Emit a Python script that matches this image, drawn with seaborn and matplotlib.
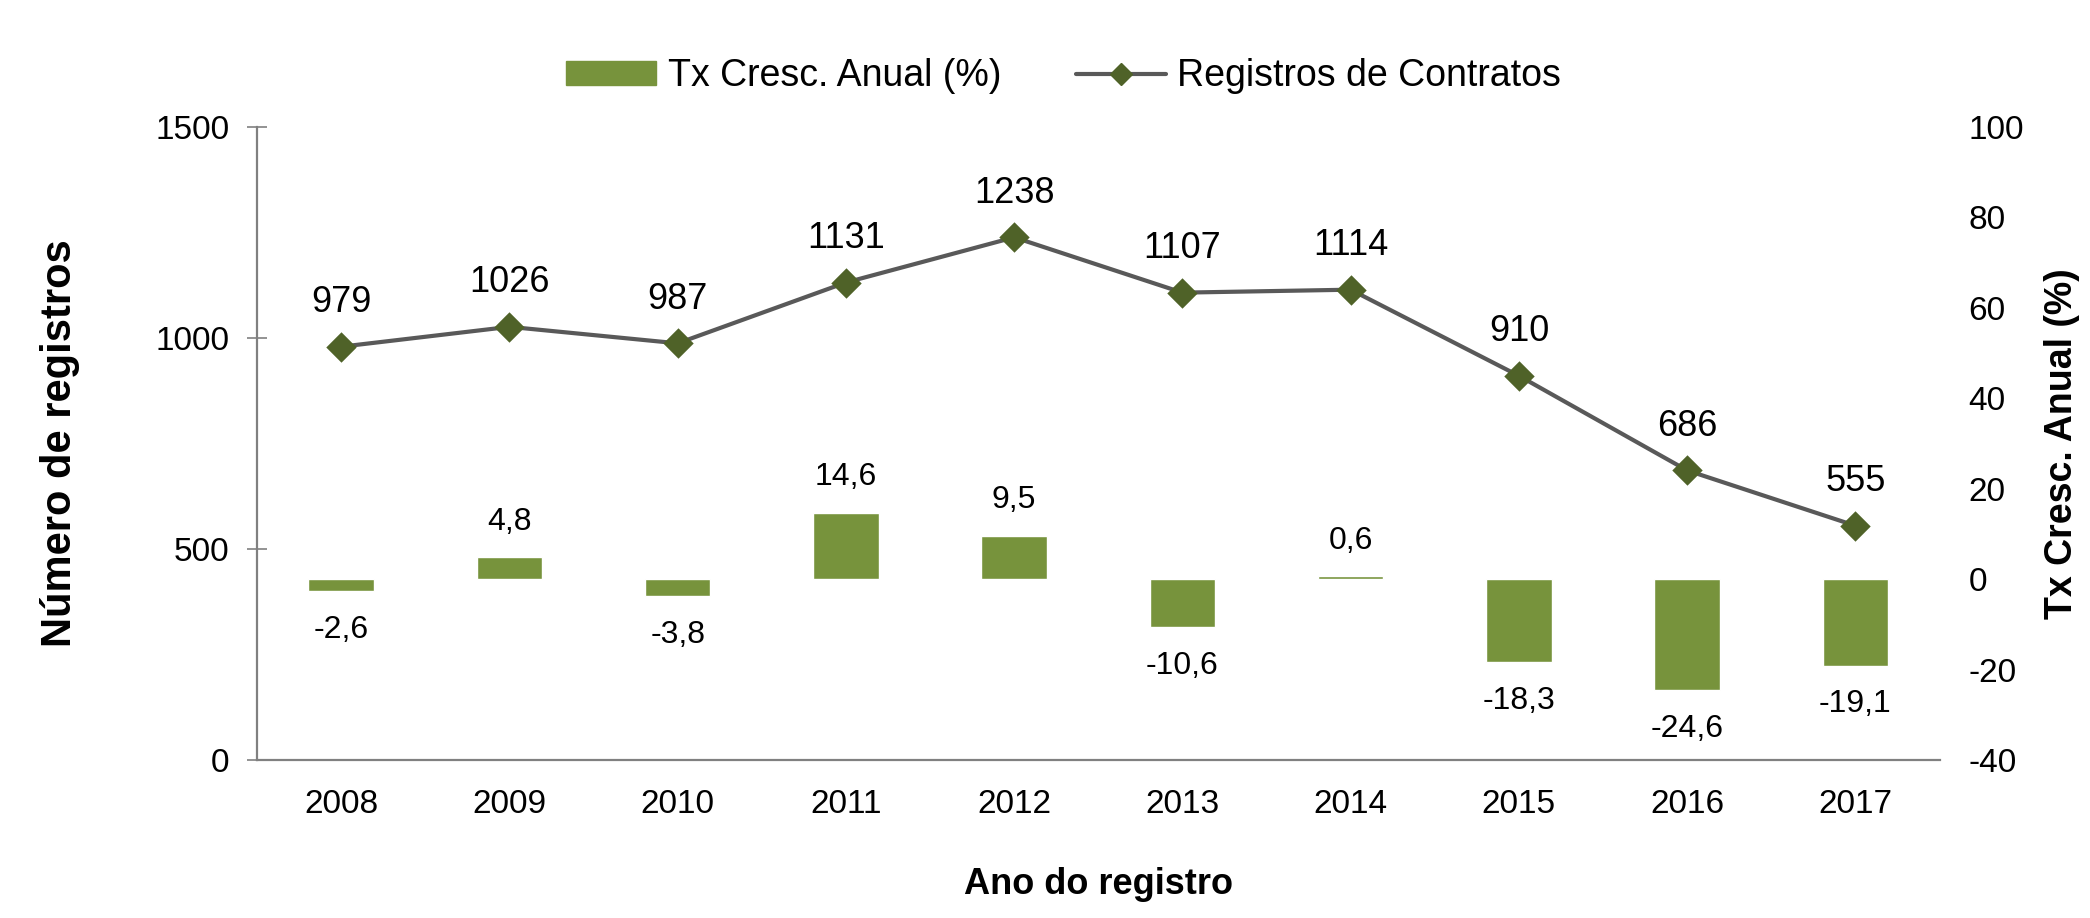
# -*- coding: utf-8 -*-
import numpy as np
import pandas as pd
import matplotlib.pyplot as plt
import seaborn as sns
from matplotlib.patches import Patch
from matplotlib.lines import Line2D

# %% data
anos = ['2008', '2009', '2010', '2011', '2012', '2013', '2014', '2015', '2016', '2017']
registros = [979, 1026, 987, 1131, 1238, 1107, 1114, 910, 686, 555]
tx_cresc = [-2.6, 4.8, -3.8, 14.6, 9.5, -10.6, 0.6, -18.3, -24.6, -19.1]

df = pd.DataFrame({'ano': anos, 'registros': registros, 'tx': tx_cresc})

verde = '#77933C'
verde_esc = '#4F6228'
cinza = '#595959'

sns.set_theme(style='white')
plt.rcParams['font.family'] = ['Liberation Sans', 'DejaVu Sans']
plt.rcParams['axes.unicode_minus'] = False
plt.rcParams['text.color'] = 'black'
plt.rcParams['axes.labelcolor'] = 'black'
plt.rcParams['xtick.labelcolor'] = 'black'
plt.rcParams['ytick.labelcolor'] = 'black'

fig, ax = plt.subplots(figsize=(20.9, 9.18), dpi=100)
fig.subplots_adjust(left=0.123, right=0.928, bottom=0.172, top=0.862)
ax2 = ax.twinx()

# bars on the right axis
sns.barplot(data=df, x='ano', y='tx', ax=ax2, color=verde, width=0.39,
            saturation=1, errorbar=None)
for p, v in zip(ax2.patches, tx_cresc):
    lab = '{:.1f}'.format(v).replace('.', ',')
    if v >= 0:
        ax2.annotate(lab, (p.get_x() + p.get_width() / 2, v), xytext=(0, 15),
                     textcoords='offset points', ha='center', va='bottom', fontsize=23)
    else:
        ax2.annotate(lab, (p.get_x() + p.get_width() / 2, v), xytext=(0, -17),
                     textcoords='offset points', ha='center', va='top', fontsize=23)

# line on the left axis
sns.pointplot(data=df, x='ano', y='registros', ax=ax, color=cinza,
              markers='D', linestyles='-', markersize=13, linewidth=3,
              errorbar=None)
for ln in ax.lines:
    ln.set_markerfacecolor(verde_esc)
    ln.set_markeredgecolor(verde_esc)
for i, v in enumerate(registros):
    ax.annotate(str(v), (i, v), xytext=(0, 19), textcoords='offset points',
                ha='center', va='bottom', fontsize=26)

ax.set_zorder(ax2.get_zorder() + 1)
ax.patch.set_visible(False)

ax.set_ylim(0, 1500)
ax.set_yticks([0, 500, 1000, 1500])
ax2.set_ylim(-40, 100)
ax2.set_yticks(np.arange(-40, 101, 20))
for a in (ax, ax2):
    a.set_xlim(-0.5, 9.5)

ax.set_xticks(range(len(anos)))
ax.set_xticklabels(anos)
ax.set_xticks(np.arange(-0.5, 10, 1), minor=True)
ax.tick_params(axis='x', which='major', length=0, labelsize=24, pad=21)
ax.tick_params(axis='x', which='minor', length=14, width=1.2, direction='inout', color='#808080')
ax.tick_params(axis='y', length=14, width=1.2, direction='inout', color='#808080',
               labelsize=24, pad=13, left=True)
ax2.tick_params(axis='y', length=0, labelsize=24, pad=21)

for s in ['top', 'right']:
    ax.spines[s].set_visible(False)
    ax2.spines[s].set_visible(False)
ax2.spines['left'].set_visible(False)
ax2.spines['bottom'].set_visible(False)
for s in ['left', 'bottom']:
    ax.spines[s].set_color('#808080')
    ax.spines[s].set_linewidth(1.6)

ax.set_xlabel('Ano do registro', fontsize=26, fontweight='bold')
ax.set_ylabel('Número de registros', fontsize=30, fontweight='bold')
ax2.set_ylabel('Tx Cresc. Anual (%)', fontsize=27, fontweight='bold')
ax.xaxis.set_label_coords(0.5, -0.168)
ax.yaxis.set_label_coords(-0.105, 0.5)
ax2.yaxis.set_label_coords(1.062, 0.5)
ax.grid(False)
ax2.grid(False)

handles = [Patch(color=verde),
           Line2D([0], [0], color=cinza, lw=3, marker='D', markersize=11,
                  markerfacecolor=verde_esc, markeredgecolor=verde_esc)]
fig.legend(handles, ['Tx Cresc. Anual (%)', 'Registros de Contratos'],
           loc='center', bbox_to_anchor=(0.509, 0.917), ncol=2, frameon=False,
           fontsize=27, handlelength=2.4, handleheight=0.62, handletextpad=0.3,
           columnspacing=2.0)

plt.savefig('out.png', dpi=100)
